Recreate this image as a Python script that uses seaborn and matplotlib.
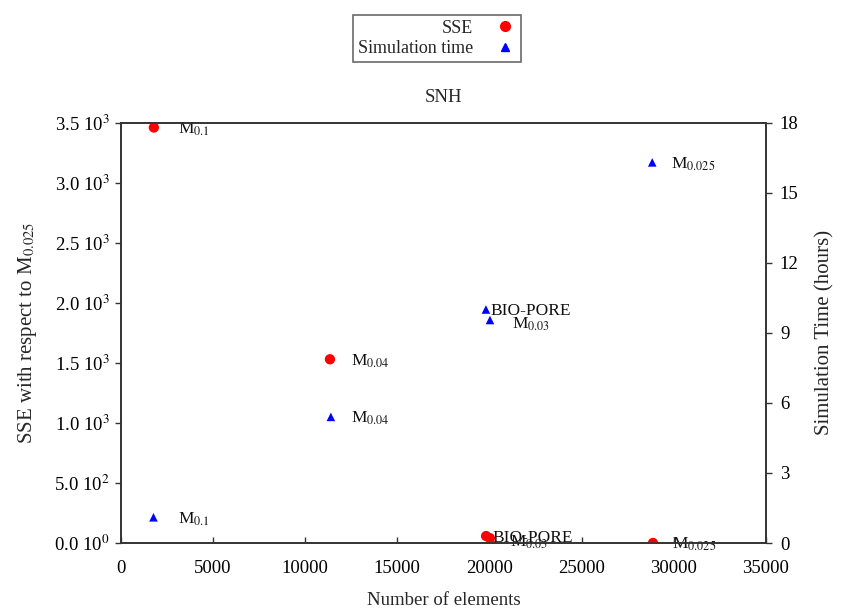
import matplotlib
matplotlib.use("Agg")
import matplotlib.pyplot as plt
from matplotlib.ticker import FuncFormatter
from matplotlib.lines import Line2D
import seaborn as sns
import pandas as pd
import numpy as np

# Mesh results for the SNH case
labels_sse = ["M$_{0.1}$", "M$_{0.04}$", "BIO-PORE", "M$_{0.03}$", "M$_{0.025}$"]
elements_sse = [1800, 11350, 19820, 20030, 28870]
sse_values = [3460, 1530, 58, 40, 0]

labels_time = ["M$_{0.1}$", "M$_{0.04}$", "BIO-PORE", "M$_{0.03}$", "M$_{0.025}$"]
elements_time = [1780, 11400, 19810, 20030, 28830]
time_hours = [1.1, 5.4, 10.0, 9.55, 16.3]

x_ticks = [0, 5000, 10000, 15000, 20000, 25000, 30000, 35000]
sse_ticks = [0, 500, 1000, 1500, 2000, 2500, 3000, 3500]
time_ticks = [0, 3, 6, 9, 12, 15, 18]

sns.set_theme(style="white")
plt.rcParams["font.family"] = ["Liberation Serif", "DejaVu Serif"]
plt.rcParams["mathtext.fontset"] = "stix"
FS = 13.5

df_sse = pd.DataFrame({"elements": elements_sse, "sse": sse_values, "name": labels_sse})
df_time = pd.DataFrame({"elements": elements_time, "hours": time_hours, "name": labels_time})

fig = plt.figure(figsize=(8.45, 6.08), dpi=100)
ax = fig.add_axes([0.1428, 0.1069, 0.9065 - 0.1428, 0.7982 - 0.1069])
ax2 = ax.twinx()

sns.scatterplot(data=df_sse, x="elements", y="sse", ax=ax, color="#ff0000",
                marker="o", s=55, edgecolor="none", legend=False, zorder=3)
sns.scatterplot(data=df_time, x="elements", y="hours", ax=ax2, color="#0000ff",
                marker="^", s=38, edgecolor="none", legend=False, zorder=3)

ax.set_xlim(0, 35000)
ax.set_ylim(0, 3500)
ax2.set_ylim(0, 18)
ax.set_xticks(x_ticks)
ax.set_yticks(sse_ticks)
ax2.set_yticks(time_ticks)


def sci_fmt(v, pos):
    if v == 0:
        return "0.0 10$^{0}$"
    e = int(np.floor(np.log10(abs(v))))
    m = v / 10 ** e
    return f"{m:.1f} 10$^{{{e}}}$"


ax.yaxis.set_major_formatter(FuncFormatter(sci_fmt))
ax.xaxis.set_major_formatter(FuncFormatter(lambda v, p: f"{int(v)}"))

# point labels, offsets in pixels (label baseline sits a little below the marker)
sse_offsets = [(24, -6), (21, -6), (6, -6), (20, -8), (19, -6)]
for (x, y, t), (dx, dy) in zip(zip(elements_sse, sse_values, labels_sse), sse_offsets):
    ax.annotate(t, (x, y), xytext=(dx, dy), textcoords="offset pixels",
                ha="left", va="baseline", fontsize=FS - 1, color="#111111", zorder=4)
time_offsets = [(25, -6), (20, -6), (5, -6), (22, -9), (19, -6)]
for (x, y, t), (dx, dy) in zip(zip(elements_time, time_hours, labels_time), time_offsets):
    ax2.annotate(t, (x, y), xytext=(dx, dy), textcoords="offset pixels",
                 ha="left", va="baseline", fontsize=FS - 1, color="#111111", zorder=4)

for a in (ax, ax2):
    for sp in a.spines.values():
        sp.set_color("#333333")
        sp.set_linewidth(1.2)
        sp.set_visible(True)

ax.tick_params(axis="y", direction="out", length=4, width=1, colors="#333333",
               labelcolor="black", labelsize=FS, left=True, pad=4)
ax.tick_params(axis="x", direction="in", length=4, width=1, colors="#333333",
               labelcolor="black", labelsize=FS, bottom=True, pad=12)
ax2.tick_params(axis="y", direction="out", length=4, width=1, colors="#333333",
                labelcolor="black", labelsize=FS, right=True, pad=6)

ax.set_xlabel("Number of elements", fontsize=FS, labelpad=11)
ax.set_ylabel("SSE with respect to M$_{0.025}$", fontsize=15, labelpad=11)
ax2.set_ylabel("Simulation Time (hours)", fontsize=15, labelpad=12)
ax.set_title("SNH", fontsize=FS, pad=15)

handles = [
    Line2D([], [], linestyle="none", marker="o", color="#ff0000", markersize=7),
    Line2D([], [], linestyle="none", marker="^", color="#0000ff", markersize=5.5),
]
leg = fig.legend(handles, ["SSE", "Simulation time"], loc="upper center",
                 bbox_to_anchor=(437 / 845, 1 - 6 / 608), markerfirst=False,
                 fontsize=FS - 0.5, frameon=True, fancybox=False,
                 handlelength=1.2, handletextpad=1.2, borderpad=0.25,
                 labelspacing=0.2, alignment="right")
leg.get_frame().set_edgecolor("#444444")
leg.get_frame().set_linewidth(1.2)
for t in leg.get_texts():
    t.set_ha("right")

fig.savefig("out.png", dpi=100)
